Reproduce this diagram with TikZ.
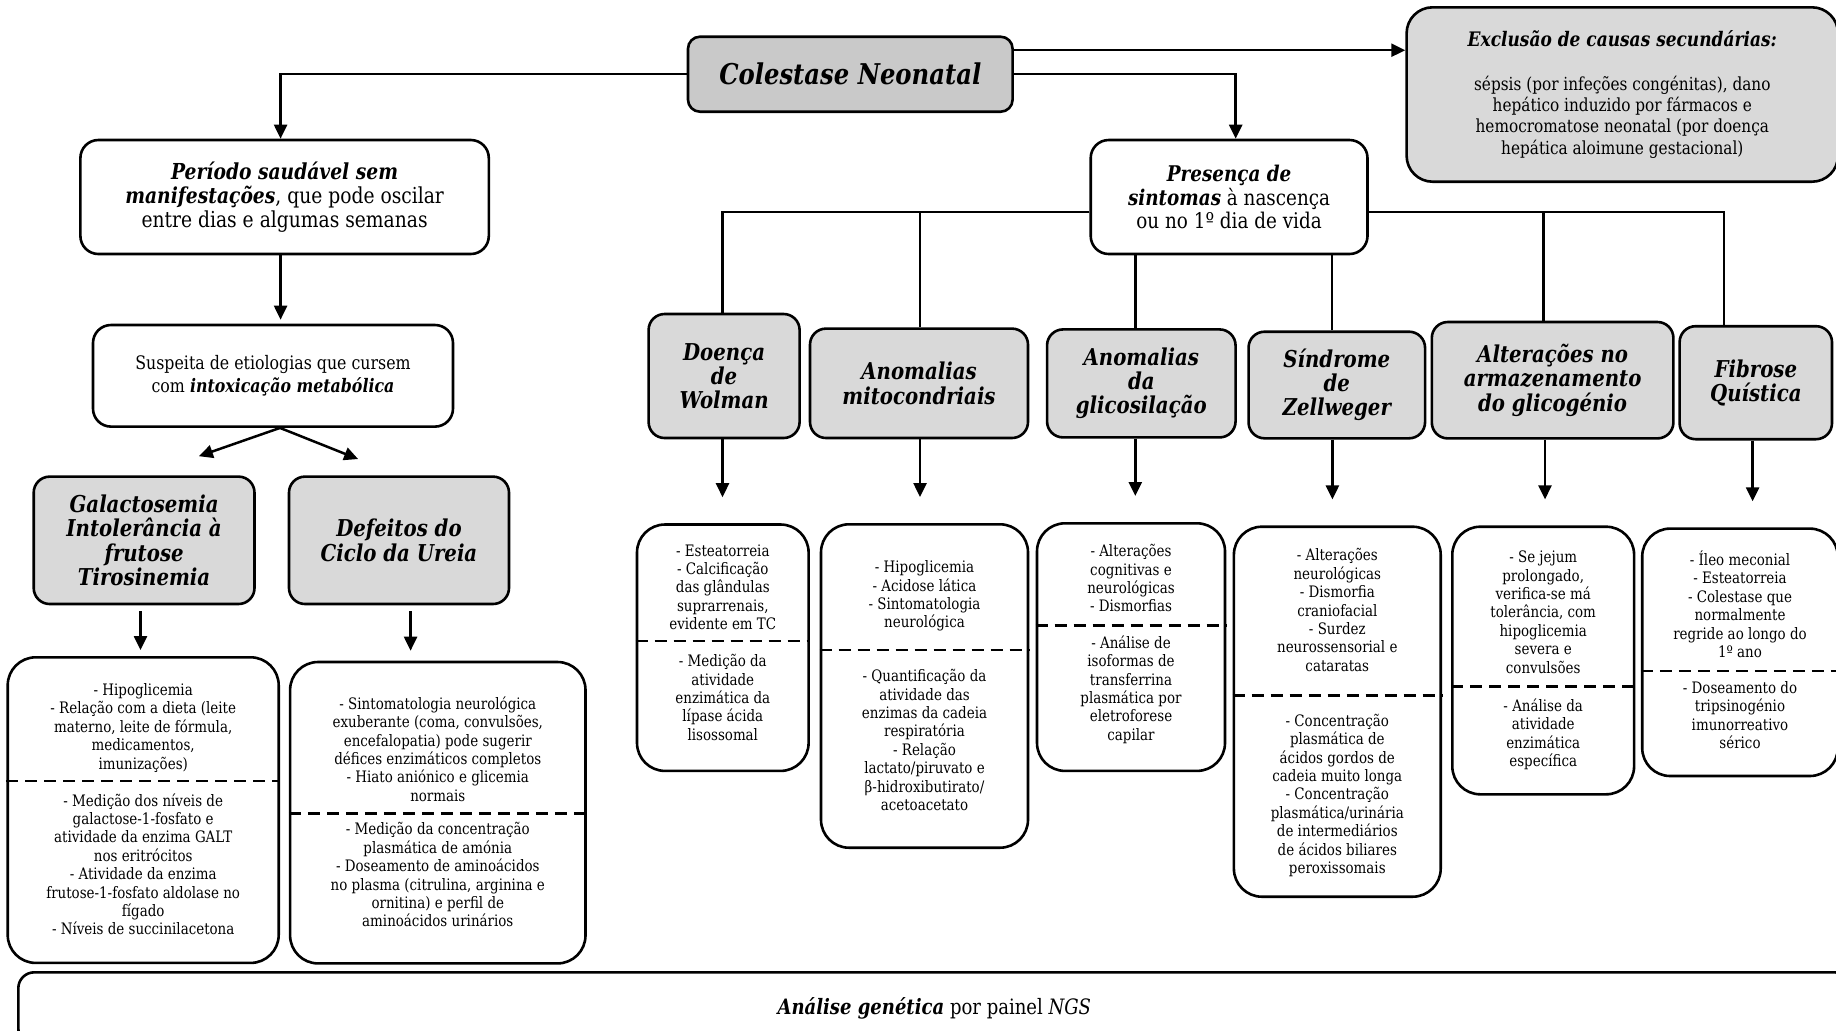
\documentclass[tikz,border=0pt]{standalone}
\usepackage{fontspec}
\setmainfont{DejaVu Serif}[FakeStretch=0.85]
\usetikzlibrary{positioning, arrows.meta}
\definecolor{topgray}{RGB}{201,201,201}
\definecolor{boxgray}{RGB}{217,217,217}

\begin{document}
\begin{tikzpicture}[x=0.5pt, y=-0.5pt,
        box/.style={draw, line width=1.3pt, rounded corners=9pt, align=center, inner sep=2pt},
        cat/.style={box, fill=boxgray, rounded corners=8pt, font=\bfseries\itshape\fontsize{11.6}{12.1}\selectfont},
        det/.style={box, rounded corners=14pt, anchor=north},
        dtxt/.style={align=center, inner sep=0pt, font=\fontsize{7.9}{9.2}\selectfont},
        dsh/.style={line width=1.3pt, dash pattern=on 6pt off 3.5pt},
        conn/.style={line width=1.25pt},
        arr/.style={conn, -{Triangle[length=7pt, width=6.5pt]}}]
    \useasboundingbox (0,0) rectangle (1836,1030);

    % top row
    \node[box, fill=topgray, rounded corners=6pt, minimum width=162.3pt, minimum height=37.5pt,
        font=\bfseries\itshape\fontsize{14.3}{16}\selectfont] (cole) at (850.3,74.2) {Colestase Neonatal};
    \node[box, fill=boxgray, rounded corners=13pt, minimum width=215.7pt, minimum height=87.2pt,
        font=\fontsize{9}{10.7}\selectfont] (excl) at (1622.3,94.5)
        {{\bfseries\itshape\fontsize{10}{10.7}\selectfont Exclusão de causas secundárias:}\\[11pt]
         sépsis (por infeções congénitas), dano\\hepático induzido por fármacos e\\
         hemocromatose neonatal (por doença\\hepática aloimune gestacional)};

    % left branch
    \node[box, minimum width=204.2pt, minimum height=57pt, font=\fontsize{11}{11.9}\selectfont] (per) at (284.6,197)
        {\textbf{\textit{Período saudável sem}}\\\textbf{\textit{manifestações}}, que pode oscilar\\entre dias e algumas semanas};
    \node[box, minimum width=180pt, minimum height=50.8pt, font=\fontsize{9.3}{11.2}\selectfont] (sus) at (273,375.8)
        {Suspeita de etiologias que cursem\\com \textbf{\textit{intoxicação metabólica}}};
    \node[cat, minimum width=110.4pt, minimum height=63.7pt] (gal) at (144.1,540.3) {Galactosemia\\Intolerância à\\frutose\\Tirosinemia};
    \node[cat, minimum width=110pt, minimum height=63.7pt] (ure) at (399,540.3) {Defeitos do\\Ciclo da Ureia};

    \node[det, minimum width=135.5pt, minimum height=152.8pt] (galD) at (143.2,656) {};
    \node[dtxt, below=13.5pt of galD.north] (galS) {- Hipoglicemia\\- Relação com a dieta (leite\\materno, leite de fórmula,\\medicamentos,\\imunizações)};
    \coordinate[below=62.5pt of galD.north] (galM);
    \draw[dsh] (galM -| galD.west) -- (galM -| galD.east);
    \node[dtxt, below=6pt of galM] (galT) {- Medição dos níveis de\\galactose-1-fosfato e\\atividade da enzima GALT\\nos eritrócitos\\- Atividade da enzima\\frutose-1-fosfato aldolase no\\fígado\\- Níveis de succinilacetona};

    \node[det, minimum width=147.7pt, minimum height=150.7pt] (ureD) at (437.8,660.7) {};
    \node[dtxt, below=17.8pt of ureD.north] (ureS) {- Sintomatologia neurológica\\exuberante (coma, convulsões,\\encefalopatia) pode sugerir\\défices enzimáticos completos\\- Hiato aniónico e glicemia\\normais};
    \coordinate[below=76.3pt of ureD.north] (ureM);
    \draw[dsh] (ureM -| ureD.west) -- (ureM -| ureD.east);
    \node[dtxt, below=4.5pt of ureM] (ureT) {- Medição da concentração\\plasmática de amónia\\- Doseamento de aminoácidos\\no plasma (citrulina, arginina e\\ornitina) e perfil de\\aminoácidos urinários};

    % right branch
    \node[box, minimum width=138.4pt, minimum height=57pt, font=\fontsize{10.8}{11.9}\selectfont] (pre) at (1229.1,197)
        {\textbf{\textit{Presença de}}\\\textbf{\textit{sintomas}} à nascença\\ou no 1º dia de vida};

    \node[cat, minimum width=75.5pt, minimum height=62pt] (wol) at (724.1,376) {Doença\\de\\Wolman};
    \node[cat, minimum width=109pt, minimum height=54.7pt] (mit) at (919,383.3) {Anomalias\\mitocondriais};
    \node[cat, minimum width=94.25pt, minimum height=54pt] (gli) at (1141.3,383.4) {Anomalias\\da\\glicosilação};
    \node[cat, minimum width=88.25pt, minimum height=53.3pt] (zel) at (1336.8,385) {Síndrome\\de\\Zellweger};
    \node[cat, minimum width=120.8pt, minimum height=58.2pt] (glg) at (1552.6,380.2) {Alterações no\\armazenamento\\do glicogénio};
    \node[cat, minimum width=76.2pt, minimum height=56.5pt] (fib) at (1755.8,382.7) {Fibrose\\Quística};

    \node[det, minimum width=85.8pt, minimum height=123.2pt] (wolD) at (722.8,523.2) {};
    \node[dtxt, below=10.45pt of wolD.north] (wolS) {- Esteatorreia\\- Calcificação\\das glândulas\\suprarrenais,\\evidente em TC};
    \coordinate[below=58.9pt of wolD.north] (wolM);
    \draw[dsh] (wolM -| wolD.west) -- (wolM -| wolD.east);
    \node[dtxt, below=6.55pt of wolM] (wolT) {- Medição da\\atividade\\enzimática da\\lípase ácida\\lisossomal};

    \node[det, minimum width=103.5pt, minimum height=161.7pt] (mitD) at (924.5,523) {};
    \node[dtxt, below=18.6pt of mitD.north] (mitS) {- Hipoglicemia\\- Acidose lática\\- Sintomatologia\\neurológica};
    \coordinate[below=63.5pt of mitD.north] (mitM);
    \draw[dsh] (mitM -| mitD.west) -- (mitM -| mitD.east);
    \node[dtxt, below=9.55pt of mitM] (mitT) {- Quantificação da\\atividade das\\enzimas da cadeia\\respiratória\\- Relação\\lactato/piruvato e\\β-hidroxibutirato/\\acetoacetato};

    \node[det, minimum width=94pt, minimum height=123.8pt] (gliD) at (1131,522) {};
    \node[dtxt, below=11.05pt of gliD.north] (gliS) {- Alterações\\cognitivas e\\neurológicas\\- Dismorfias};
    \coordinate[below=51.85pt of gliD.north] (gliM);
    \draw[dsh] (gliM -| gliD.west) -- (gliM -| gliD.east);
    \node[dtxt, below=4.75pt of gliM] (gliT) {- Análise de\\isoformas de\\transferrina\\plasmática por\\eletroforese\\capilar};

    \node[det, minimum width=103.4pt, minimum height=185pt] (zelD) at (1337.3,525.4) {};
    \node[dtxt, below=11.4pt of zelD.north] (zelS) {- Alterações\\neurológicas\\- Dismorfia\\craniofacial\\- Surdez\\neurossensorial e\\cataratas};
    \coordinate[below=85pt of zelD.north] (zelM);
    \draw[dsh] (zelM -| zelD.west) -- (zelM -| zelD.east);
    \node[dtxt, below=9.1pt of zelM] (zelT) {- Concentração\\plasmática de\\ácidos gordos de\\cadeia muito longa\\- Concentração\\plasmática/urinária\\de intermediários\\de ácidos biliares\\peroxissomais};

    \node[det, minimum width=90.9pt, minimum height=133.8pt] (glgD) at (1543.2,525.4) {};
    \node[dtxt, below=12.55pt of glgD.north] (glgS) {- Se jejum\\prolongado,\\verifica-se má\\tolerância, com\\hipoglicemia\\severa e\\convulsões};
    \coordinate[below=80.55pt of glgD.north] (glgM);
    \draw[dsh] (glgM -| glgD.west) -- (glgM -| glgD.east);
    \node[dtxt, below=5.85pt of glgM] (glgT) {- Análise da\\atividade\\enzimática\\específica};

    \node[det, minimum width=97.8pt, minimum height=123.7pt] (fibD) at (1740,527.3) {};
    \node[dtxt, below=11.6pt of fibD.north] (fibS) {- Íleo meconial\\- Esteatorreia\\- Colestase que\\normalmente\\regride ao longo do\\1º ano};
    \coordinate[below=71.85pt of fibD.north] (fibM);
    \draw[dsh] (fibM -| fibD.west) -- (fibM -| fibD.east);
    \node[dtxt, below=4.9pt of fibM] (fibT) {- Doseamento do\\tripsinogénio\\imunorreativo\\sérico};

    % bottom
    \node[box, rounded corners=8pt, anchor=north west, minimum width=916pt, minimum height=36pt,
        font=\fontsize{10.6}{12}\selectfont] (gen) at (17,971)
        {\textbf{\textit{Análise genética}} por painel \textit{NGS}};

    % connectors
    \draw[arr] ([yshift=12pt]cole.east) -- ([yshift=12pt]cole.east -| excl.west);
    \draw[arr] (cole.west) -| ([xshift=-2pt]per.north);
    \draw[arr] (cole.east) -| ([xshift=3.3pt]pre.north);
    \draw[arr, shorten >=2pt] ([xshift=-2pt]per.south) -- ([xshift=-2pt]per.south |- sus.north);
    \draw[arr, shorten >=29pt] ([xshift=3.5pt]sus.south) -- (gal.north);
    \draw[arr, shorten >=22pt] ([xshift=3.5pt]sus.south) -- (ure.north);
    \draw[arr, shorten <=3pt, shorten >=3pt] ([xshift=-1.8pt]gal.south) -- ([xshift=-1.8pt]gal.south |- galD.north);
    \draw[arr, shorten <=3pt, shorten >=5pt] ([xshift=5.8pt]ure.south) -- ([xshift=5.8pt]ure.south |- ureD.north);

    \draw[conn] ([yshift=-7.6pt]pre.west) -| ([xshift=-0.9pt]wol.north);
    \draw[conn] ([yshift=-7.6pt]pre.west) -| ([xshift=0.5pt]mit.north);
    \draw[conn] ([yshift=-7.6pt]pre.east) -| ([xshift=-4.6pt]glg.north);
    \draw[conn] ([yshift=-7.6pt]pre.east) -| ([xshift=-15.9pt]fib.north);
    \draw[conn] ([xshift=-3pt]gli.north) -- ([xshift=-3pt]gli.north |- pre.south);
    \draw[conn] ([xshift=-2.5pt]zel.north) -- ([xshift=-2.5pt]zel.north |- pre.south);

    \foreach \n/\s in {wol/-0.8pt, mit/0.5pt, gli/-3pt, zel/-2.2pt, glg/-3.8pt, fib/-1.6pt}
        \draw[arr, shorten >=13pt] ([xshift=\s]\n.south) -- ([xshift=\s]\n.south |- \n D.north);
\end{tikzpicture}
\end{document}
